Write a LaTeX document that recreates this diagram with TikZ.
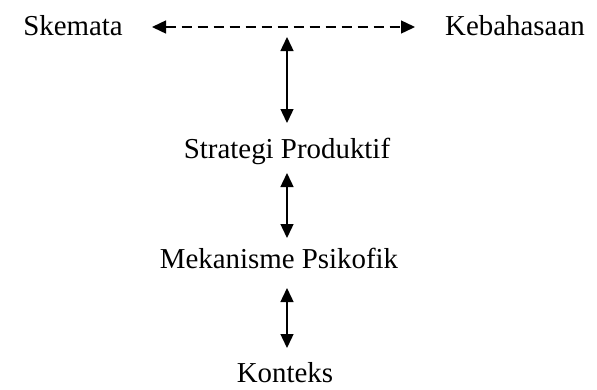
\documentclass[tikz,border=0pt]{standalone}
\usepackage{fontspec}
\setmainfont{Liberation Serif}
\usetikzlibrary{arrows.meta}
\begin{document}
\begin{tikzpicture}[x=1bp,y=-1bp,
  lbl/.style={font=\fontsize{29}{32}\selectfont, inner sep=0pt, anchor=base},
  link/.style={line width=1.4bp, {Triangle[length=14bp,width=13bp]}-{Triangle[length=14bp,width=13bp]}},
  dlink/.style={link, dash pattern=on 10bp off 6bp}]
\useasboundingbox[fill=white] (0,0) rectangle (597,389);
\node[lbl] (ske) at (73,35) {Skemata};
\node[lbl] (keb) at (515,35) {Kebahasaan};
\node[lbl] (str) at (287,158) {Strategi Produktif};
\node[lbl] (mek) at (279,268) {Mekanisme Psikofik};
\node[lbl] (kon) at (285,382) {Konteks};
\coordinate (ls) at (152,27);
\coordinate (rs) at (415,27);
\coordinate (t1) at (287,37);
\coordinate (b1) at (287,123);
\coordinate (t2) at (287,173);
\coordinate (b2) at (287,238);
\coordinate (t3) at (287,288);
\coordinate (b3) at (287,348);
\draw[dlink] (ls) -- (rs);
\draw[link] (t1) -- (b1);
\draw[link] (t2) -- (b2);
\draw[link] (t3) -- (b3);
\end{tikzpicture}
\end{document}
